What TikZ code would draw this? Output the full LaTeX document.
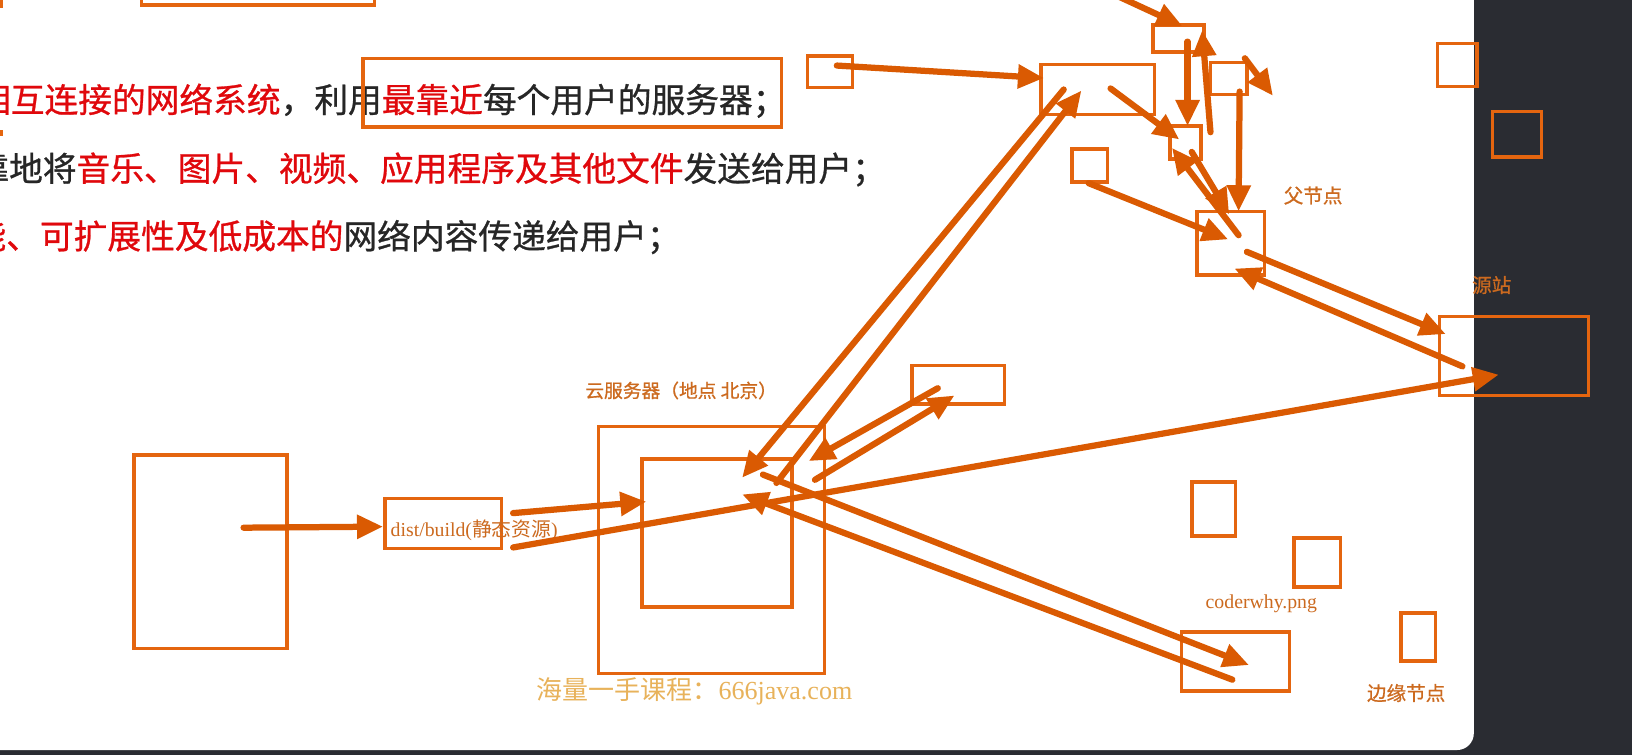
\documentclass[tikz,border=0pt]{standalone}
\usepackage{fontspec}
\setmainfont{Liberation Serif}
\newfontfamily\cjk{Noto Sans CJK SC}
\newfontfamily\cjkb[FakeBold=0.8]{Noto Sans CJK SC}
\newfontfamily\lser{Liberation Serif}
\usetikzlibrary{arrows.meta,fit}
\definecolor{boxc}{HTML}{E4650F}
\definecolor{arrc}{HTML}{DA5A02}
\definecolor{labc}{HTML}{CC6A1F}
\definecolor{wmc}{HTML}{E8B25A}
\definecolor{redt}{HTML}{E0080C}
\definecolor{blkt}{HTML}{262626}
\definecolor{darkbg}{HTML}{2A2C32}
\begin{document}
\begin{tikzpicture}[x=0.5pt,y=-0.5pt,
  boxst/.style={draw=boxc, line width=1.7pt, inner sep=0pt},
  arr/.style={draw=arrc, line width=3pt, line cap=round, -{Triangle[length=12.5pt,width=11pt]}},
  lab/.style={text=labc, inner sep=0pt, anchor=base west, font=\cjkb\fontsize{9.4pt}{11pt}\selectfont},
  latlab/.style={text=labc, inner sep=0pt, anchor=base west, font=\lser\fontsize{9.5pt}{11pt}\selectfont},
  bigtxt/.style={inner sep=0pt, anchor=base west, font=\cjkb\fontsize{16.2pt}{19pt}\selectfont}]
\useasboundingbox (0,0) rectangle (1568,725.4);
\clip (0,0) rectangle (1568,725.4);
\fill[darkbg] (0,0) rectangle (1568,725.4);
\fill[white, rounded corners=8] (-20,-20) rectangle (1416,720.6);

% text lines
\node[bigtxt] (l1) at (-22.4,108) {\textcolor{redt}{相互连接的网络系统}\textcolor{blkt}{，利用}\textcolor{redt}{最靠近}\textcolor{blkt}{每个用户的服务器；}};
\node[bigtxt] (l2) at (-24,174) {\textcolor{blkt}{靠地将}\textcolor{redt}{音乐、图片、视频、应用程序及其他文件}\textcolor{blkt}{发送给用户；}};
\node[bigtxt] (l3) at (-26.8,239) {\textcolor{redt}{能、可扩展性及低成本的}\textcolor{blkt}{网络内容传递给用户；}};

% boxes
\node[boxst, fit={(136,-12) (360,4.8)}] (T0) {};
\draw[boxc, line width=1.6pt] (1.5,-2) -- (1.5,7.5);
\fill[boxc] (0,125) rectangle (2.5,131);
\node[boxst, fit={(349,56) (751,122)}] (TB) {};
\node[boxst, fit={(776,54) (819,84)}] (A) {};
\node[boxst, fit={(1000,62) (1109,110)}] (B) {};
\node[boxst, fit={(1108,24) (1157,50)}] (C) {};
\node[boxst, fit={(1163,60) (1198,91)}] (D) {};
\node[boxst, fit={(1124,121) (1154,153)}] (E) {};
\node[boxst, fit={(1030,143) (1064,175)}] (F) {};
\node[boxst, fit={(1150,203) (1215,264)}] (G) {};
\node[boxst, fit={(1381,42) (1419,83)}] (H) {};
\node[boxst, fit={(1434,107) (1481,151)}] (I) {};
\node[boxst, fit={(1383,304) (1526,380)}] (J) {};
\node[boxst, fit={(876,351) (965,388)}] (K) {};
\node[boxst, fit={(575,410) (792,647)}] (L) {};
\node[boxst, fit={(617,441) (761,583)}] (M) {};
\node[boxst, fit={(129,437) (276,623)}] (N) {};
\node[boxst, fit={(370,479) (482,527)}] (O) {};
\node[boxst, fit={(1145,463) (1187,515)}] (P) {};
\node[boxst, fit={(1243,517) (1288,564)}] (Q) {};
\node[boxst, fit={(1135,607) (1239,664)}] (R) {};
\node[boxst, fit={(1346,589) (1379,635)}] (S) {};

% labels
\node[lab] (fjd) at (1233,195) {父节点};
\node[lab] (yz) at (1414,281) {源站};
\node[lab] (byjd) at (1313,673) {边缘节点};
\node[lab, font=\cjkb\fontsize{9pt}{11pt}\selectfont] (yfwq) at (562,382) {云服务器（地点 北京）};
\node[latlab] (cw) at (1158,584.4) {coderwhy.png};
\node[latlab] (dt) at (375,515) {dist/build({\cjk 静态资源})};

% arrow endpoints
\coordinate (a1s) at (234,507);  \coordinate (a1e) at (368,506);
\coordinate (a2s) at (493,493);  \coordinate (a2e) at (621,482);
\coordinate (a3s) at (493,526);  \coordinate (a3e) at (1440,360);
\coordinate (a5s) at (733,456);  \coordinate (a5e) at (1200,639);
\coordinate (a5bs) at (1184,653); \coordinate (a5be) at (713,475);
\coordinate (a6s) at (1022,86);  \coordinate (a6e) at (713,459);
\coordinate (a6bs) at (746,464); \coordinate (a6be) at (1039,87);
\coordinate (a7s) at (901,373);  \coordinate (a7e) at (777,443);
\coordinate (a7bs) at (783,461); \coordinate (a7be) at (917,380);
\coordinate (a8s) at (804,63);   \coordinate (a8e) at (1003,75);
\coordinate (a9s) at (1056,-12); \coordinate (a9e) at (1136,25);
\coordinate (a10s) at (1067,85); \coordinate (a10e) at (1133,134);
\coordinate (a11s) at (1141,40); \coordinate (a11e) at (1141,121);
\coordinate (a12s) at (1163,127); \coordinate (a12e) at (1155,29);
\coordinate (a13s) at (1196,56); \coordinate (a13e) at (1223,92);
\coordinate (a14s) at (1191,88); \coordinate (a14e) at (1190,203);
\coordinate (a15s) at (1145,146); \coordinate (a15e) at (1181,206);
\coordinate (a15bs) at (1190,226); \coordinate (a15be) at (1126,142);
\coordinate (a16s) at (1046,176); \coordinate (a16e) at (1180,230);
\coordinate (a17s) at (1198,242); \coordinate (a17e) at (1389,321);
\coordinate (a17bs) at (1405,352); \coordinate (a17be) at (1186,258);

\foreach \a in {a1,a2,a3,a5,a5b,a6,a6b,a7,a7b,a8,a9,a10,a11,a12,a13,a14,a15,a15b,a16,a17,a17b}
  \draw[arr] (\a s) -- (\a e);

% watermark
\node[inner sep=0pt, anchor=base west, text=wmc, font=\lser\fontsize{12.5pt}{14pt}\selectfont] (wm) at (515,672) {{\cjk 海量一手课程：}666java.com};
\end{tikzpicture}
\end{document}
